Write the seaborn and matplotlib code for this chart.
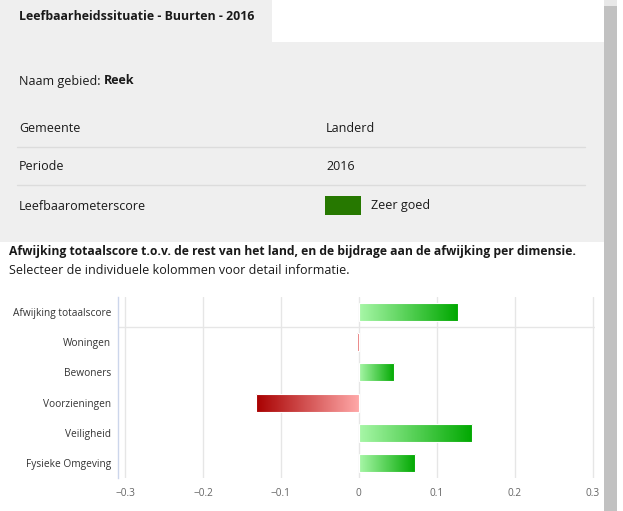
import numpy as np
import pandas as pd
import matplotlib
matplotlib.use("Agg")
import matplotlib.pyplot as plt
from matplotlib.colors import LinearSegmentedColormap
from matplotlib.patches import Rectangle
import seaborn as sns

categories = ["Afwijking totaalscore", "Woningen", "Bewoners", "Voorzieningen",
              "Veiligheid", "Fysieke Omgeving"]
values = [0.127, -0.002, 0.045, -0.132, 0.145, 0.072]
xticks = [-0.3, -0.2, -0.1, 0, 0.1, 0.2, 0.3]
xtick_labels = ["\u22120.3", "\u22120.2", "\u22120.1", "0", "0.1", "0.2", "0.3"]

info_labels = ["Gemeente", "Periode", "Leefbaarometerscore"]
info_values = ["Landerd", "2016", "Zeer goed"]

sns.set_theme(style="white")
FONT = "Open Sans"
plt.rcParams["font.family"] = [FONT, "DejaVu Sans"]

W, H = 623, 511
fig = plt.figure(figsize=(W / 100, H / 100), dpi=100)
fig.patch.set_facecolor("white")

# background panels (data coords == pixels from top-left)
bg = fig.add_axes([0, 0, 1, 1])
bg.set_xlim(0, W)
bg.set_ylim(H, 0)
bg.axis("off")
bg.add_patch(Rectangle((0, 0), 604, 242, color="#efefef", lw=0))
bg.add_patch(Rectangle((272, 0), 332, 42, color="white", lw=0))
bg.add_patch(Rectangle((604, 6), 13, H, color="#c1c1c1", lw=0))
bg.add_patch(Rectangle((604, 0), 13, 6, color="#e8e8e8", lw=0))
for yy in (147, 185):
    bg.plot([17, 585], [yy, yy], color="#dcdcdc", lw=1)
bg.add_patch(Rectangle((325, 196), 36, 19, color="#267800", lw=0))

tc = "#1a1a1a"
FS = 9.0
bg.text(19, 16, "Leefbaarheidssituatie - Buurten - 2016", fontsize=8.9,
        fontweight="bold", color=tc, va="center", ha="left")
t = bg.text(19, 81, "Naam gebied: ", fontsize=FS, color=tc, va="center", ha="left")
fig.canvas.draw()
bb = t.get_window_extent()
bg.text(bb.x1, 81, "Reek", fontsize=FS, fontweight="bold", color=tc,
        va="center", ha="left")
for i, (lab, val) in enumerate(zip(info_labels, info_values)):
    yy = [129, 167, 206][i]
    bg.text(19, yy, lab, fontsize=FS, color=tc, va="center", ha="left")
    bg.text(371 if i == 2 else 326, yy, val, fontsize=FS, color=tc,
            va="center", ha="left")
bg.text(9, 252, "Afwijking totaalscore t.o.v. de rest van het land, en de bijdrage aan de afwijking per dimensie.",
        fontsize=8.75, fontweight="bold", color=tc, va="center", ha="left")
bg.text(9, 271, "Selecteer de individuele kolommen voor detail informatie.",
        fontsize=FS, color=tc, va="center", ha="left")

# chart
x0, x1, ytop, ybot = 118, 595, 297, 478
ax = fig.add_axes([x0 / W, 1 - ybot / H, (x1 - x0) / W, (ybot - ytop) / H])
ax.set_facecolor("white")
df = pd.DataFrame({"cat": categories, "val": values})
sns.barplot(data=df, x="val", y="cat", orient="h", width=0.6, ax=ax,
            color="#00aa00", edgecolor="white", linewidth=0.8, zorder=3)

green = LinearSegmentedColormap.from_list("g", ["#a8f7a8", "#00a800"])
red = LinearSegmentedColormap.from_list("r", ["#a80000", "#ffa8a8"])
grad = np.tile(np.linspace(0, 1, 512), (2, 1))
for p in list(ax.patches):
    bx, by = p.get_x(), p.get_y()
    bw, bh = p.get_width(), p.get_height()
    xa, xb = min(bx, bx + bw), max(bx, bx + bw)
    cmap = green if bw >= 0 else red
    im = ax.imshow(grad, cmap=cmap, aspect="auto", extent=[xa, xb, by + bh, by],
                   zorder=3, interpolation="nearest")
    im.set_clip_path(p)
    p.set_facecolor("none")
    p.set_zorder(4)

ax.set_xlim(-0.309, 0.303)
ax.set_ylim(5.5, -0.5)
ax.set_xticks(xticks)
ax.set_xticklabels(xtick_labels)
for xv in xticks:
    ax.axvline(xv, color="#e6e6e6", lw=1, zorder=1)
ax.axhline(0.5, color="#e6e6e6", lw=1, zorder=1)
ax.set_xlabel("")
ax.set_ylabel("")
for s in ["top", "right", "bottom"]:
    ax.spines[s].set_visible(False)
ax.spines["left"].set_color("#ccd6eb")
ax.spines["left"].set_linewidth(1)
ax.tick_params(axis="x", length=0, pad=7, labelsize=7.3, labelcolor="#666666")
ax.tick_params(axis="y", which="major", length=0, pad=5, labelsize=7.3,
               labelcolor="#333333")
ax.set_yticks(np.arange(-0.5, 6.0, 1), minor=True)
ax.tick_params(axis="y", which="minor", length=5, color="#ccd6eb", width=1,
               direction="out")

fig.savefig("out.png", dpi=100)
